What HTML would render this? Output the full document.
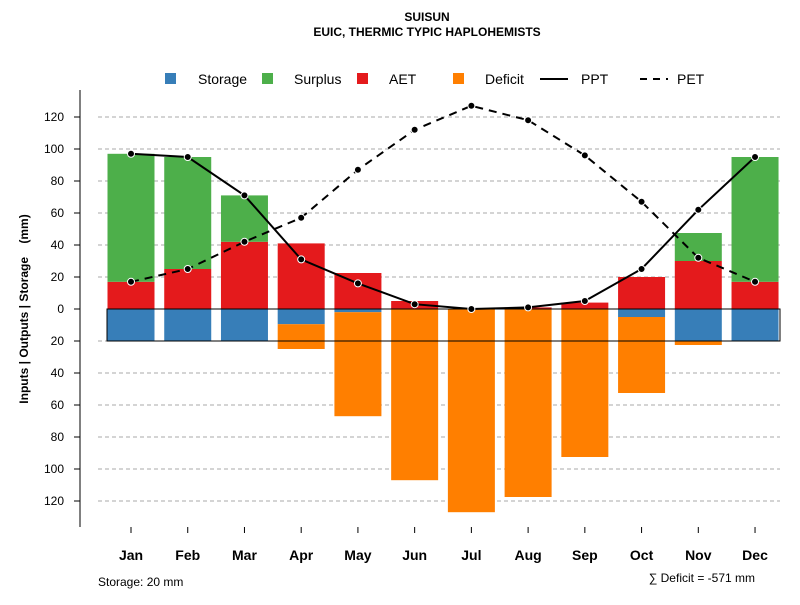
<!DOCTYPE html>
<html><head><meta charset="utf-8"><style>
body{margin:0;background:#fff}
svg text{font-family:"Liberation Sans",sans-serif}
</style></head><body>
<svg id="c" width="800" height="600" xmlns="http://www.w3.org/2000/svg">
<text x="427" y="21" text-anchor="middle" font-size="12" font-weight="bold">SUISUN</text>
<text x="427" y="36" text-anchor="middle" font-size="12" font-weight="bold">EUIC, THERMIC TYPIC HAPLOHEMISTS</text>
<g font-size="14">
<rect x="165" y="73" width="11" height="11" fill="#377EB8"/>
<text x="198" y="84">Storage</text>
<rect x="262" y="73" width="11" height="11" fill="#4DAF4A"/>
<text x="294" y="84">Surplus</text>
<rect x="357" y="73" width="11" height="11" fill="#E41A1C"/>
<text x="389" y="84">AET</text>
<rect x="453" y="73" width="11" height="11" fill="#FF7F00"/>
<text x="485" y="84">Deficit</text>
<line x1="540" y1="79" x2="568" y2="79" stroke="#000" stroke-width="2"/>
<text x="581" y="84">PPT</text>
<line x1="640" y1="79" x2="668" y2="79" stroke="#000" stroke-width="2" stroke-dasharray="7,6"/>
<text x="677" y="84">PET</text>
</g>
<g id="grid"></g><g id="bars"></g><g id="lines"></g><g id="axes"></g>
<text transform="translate(28,309) rotate(-90)" text-anchor="middle" font-size="12" font-weight="bold" style="white-space:pre">Inputs | Outputs | Storage    (mm)</text>
<text x="98" y="586" font-size="12">Storage: 20 mm</text>
<text x="755" y="582" text-anchor="end" font-size="12">∑ Deficit = -571 mm</text>
</svg>
<script>
const months=["Jan","Feb","Mar","Apr","May","Jun","Jul","Aug","Sep","Oct","Nov","Dec"];
const ppt=[97,95,71,31,16,3,0,1,5,25,62,95];
const pet=[17,25,42,57,87,112,127,118,96,67,32,17];
const aet=[17,25,42,41,22.5,5,0,1,4,20,30,17];
const surplus=[80,70,29,0,0,0,0,0,0,0,17.5,78];
const storage=[20,20,20,9.5,2,0,0,0,0,5,20,20];
const deficit=[0,0,0,15.5,65,107,127,117.5,92.5,47.5,2.5,0];
const yTicks=[-120,-100,-80,-60,-40,-20,0,20,40,60,80,100,120];
const capacity=20;
const NS="http://www.w3.org/2000/svg";
const y=v=>309-v*1.6;
const x=i=>131+i*56.73;
const bw=47;
function mk(t,a,p){const e=document.createElementNS(NS,t);for(const k in a)e.setAttribute(k,a[k]);document.getElementById(p).appendChild(e);return e;}
yTicks.forEach(t=>{
 if(t!==0){const g=mk('line',{x1:98,x2:780,y1:y(t),y2:y(t),stroke:'#aaa','stroke-dasharray':'4,3'},'grid');
 
 }
 const tk=mk('line',{x1:74,x2:80,y1:y(t),y2:y(t),stroke:'#000'},'axes');
 
 
 const l=mk('text',{x:64,y:y(t)+4,'text-anchor':'end','font-size':12},'axes');l.textContent=Math.abs(t);
 
 
});
const ax=mk('line',{x1:80,x2:80,y1:90,y2:527,stroke:'#000'},'axes');


function bar(i,v0,v1,c,n){if(v1===v0)return;const r=mk('rect',{x:x(i)-bw/2,width:bw,y:Math.min(y(v0),y(v1)),height:Math.abs(y(v0)-y(v1)),fill:c},'bars');
 
 }
months.forEach((m,i)=>{
 bar(i,0,aet[i],'#E41A1C','bar-aet-'+m.toLowerCase());
 bar(i,aet[i],aet[i]+surplus[i],'#4DAF4A','bar-surplus-'+m.toLowerCase());
 bar(i,0,-storage[i],'#377EB8','bar-storage-'+m.toLowerCase());
 bar(i,-storage[i],-storage[i]-deficit[i],'#FF7F00','bar-deficit-'+m.toLowerCase());
 const tk=mk('line',{x1:x(i),x2:x(i),y1:527,y2:533,stroke:'#000'},'axes');
 
 
 const l=mk('text',{x:x(i),y:560,'text-anchor':'middle','font-size':14,'font-weight':'bold'},'axes');l.textContent=m;
 
 
});
const cap=mk('rect',{x:107,y:y(0),width:673,height:y(-capacity)-y(0),fill:'none',stroke:'#000'},'bars');


function line(d,n,dash){const p=mk('polyline',{points:d.map((v,i)=>x(i)+','+y(v)).join(' '),fill:'none',stroke:'#000','stroke-width':2},'lines');
 if(dash)p.setAttribute('stroke-dasharray','8,6');
 
 
 d.forEach((v,i)=>{const c=mk('circle',{cx:x(i),cy:y(v),r:3.5,fill:'#000',stroke:'#fff','stroke-width':1},'lines');
 
 });}
line(ppt,'ppt',false);line(pet,'pet',true);
</script>
</body></html>
